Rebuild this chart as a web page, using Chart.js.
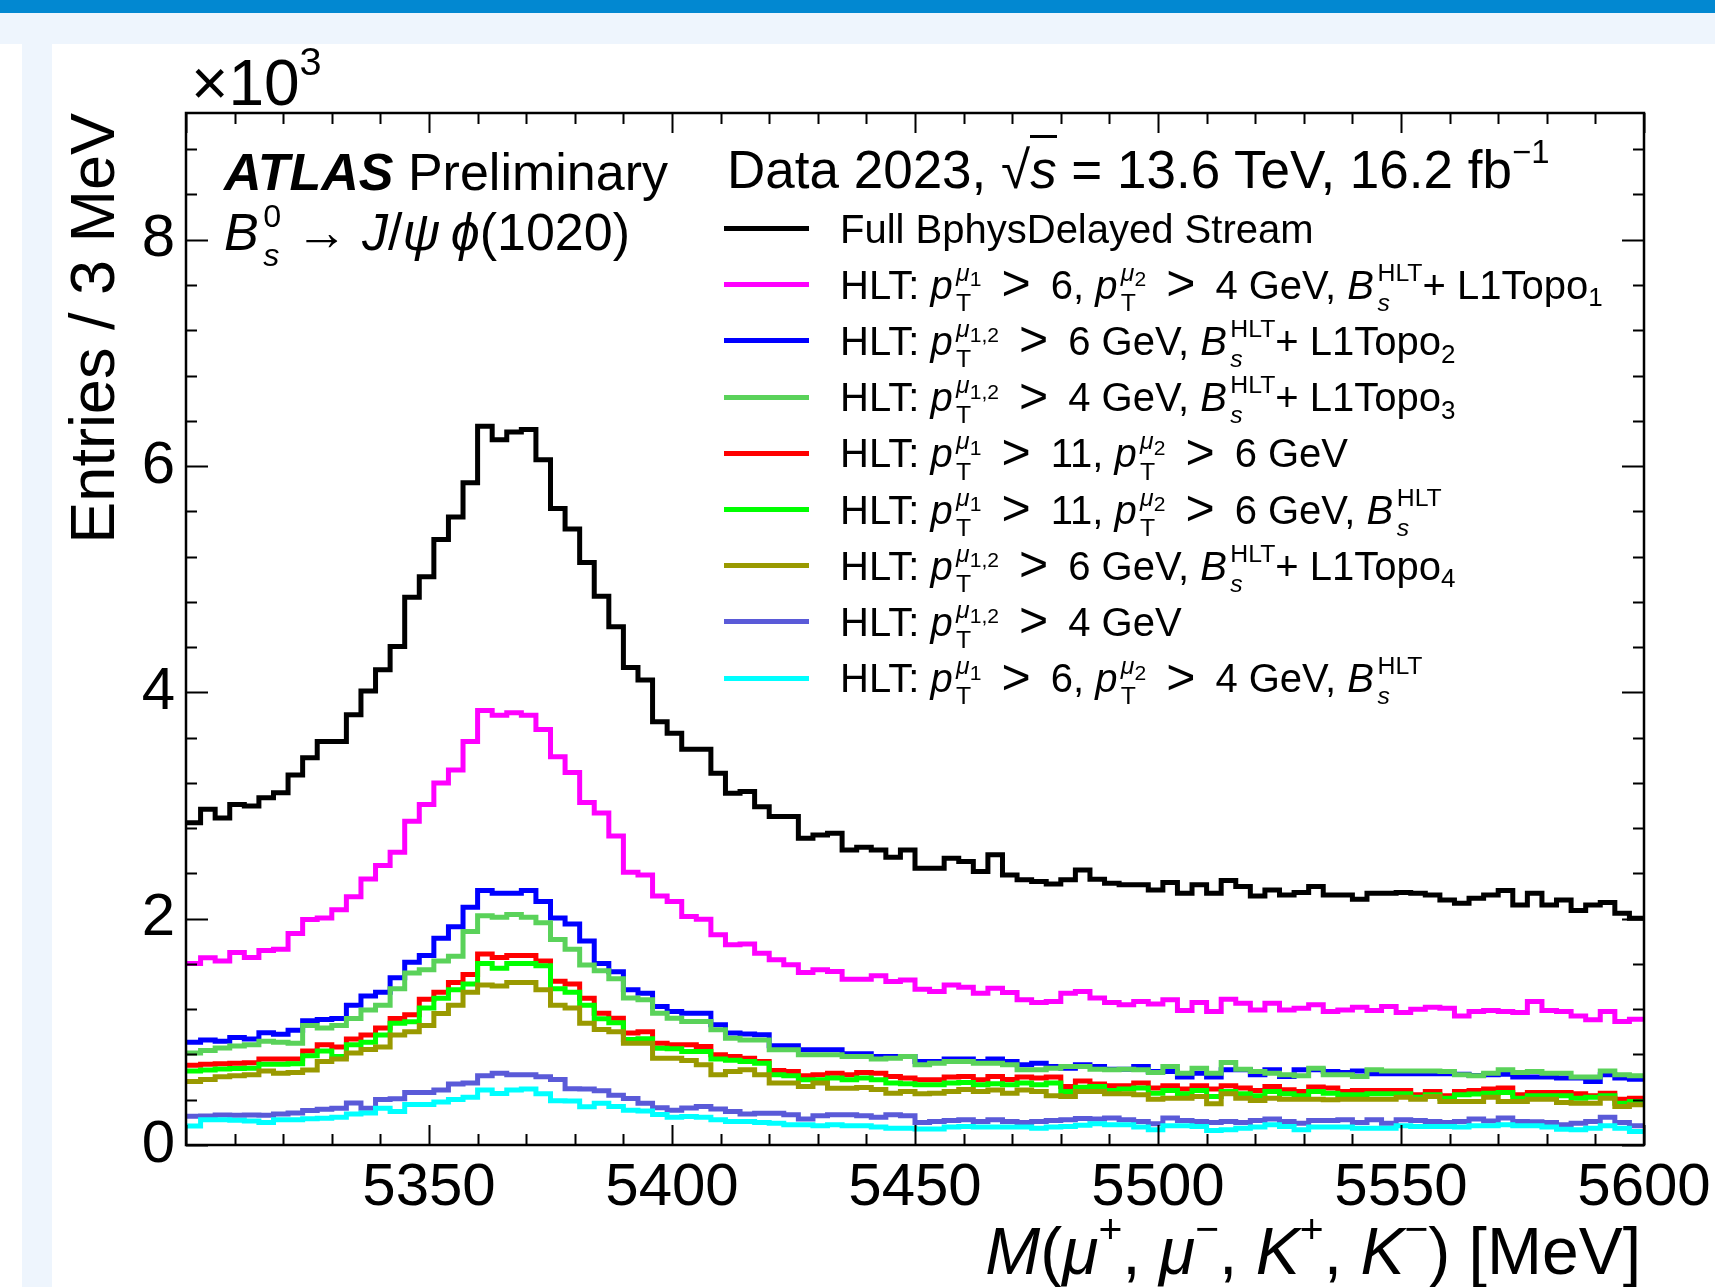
<!DOCTYPE html>
<html>
<head>
<meta charset="utf-8">
<title>Bs to J/psi phi - BphysDelayed triggers</title>
<script src="https://cdn.jsdelivr.net/npm/chart.js"></script>
<style>
  html, body { margin: 0; padding: 0; background: #fff; }
  body { width: 1715px; height: 1287px; position: relative; overflow: hidden;
         font-family: "Liberation Sans", Arial, Helvetica, sans-serif; color: #000; }
  #topbar { position: absolute; left: 0; top: 0; width: 1715px; height: 13px; background: #0288d1; }
  #band { position: absolute; left: 0; top: 13px; width: 1715px; height: 31px; background: #eef5fd; }
  #strip { position: absolute; left: 22px; top: 44px; width: 30px; height: 1243px; background: #eef5fd; }
  #plot { position: absolute; left: 52px; top: 44px; }
  .ann { position: absolute; white-space: nowrap; line-height: 1; }
  .it { font-style: italic; }
  .sp { position: relative; top: -0.75em; font-size: 0.62em; }
  .ss { display: inline-block; position: relative; font-size: 0.62em; margin-left: 0.14em; }
  .ss .u { position: relative; top: -0.72em; }
  .ss .d { position: absolute; left: 0; top: 0.5em; }
  .s3 { font-size: 0.85em; position: relative; top: 0.25em; }
  .sb { font-size: 0.65em; position: relative; top: 0.3em; }
  .gt { font-size: 1.25em; margin: 0 0.4em; position: relative; top: 0.03em; line-height: 0; }
  .key { position: absolute; width: 85px; height: 5px; }
  .root { border-top: 3px solid #000; padding-top: 2px; }
</style>
</head>
<body>
<div id="topbar"></div>
<div id="band"></div>
<div id="strip"></div>
<canvas id="plot" width="1663" height="1243"></canvas>

<div class="ann" style="left:191px; top:51px; font-size:64px;">&times;10<span class="sp">3</span></div>
<div class="ann" style="left:224px; top:146px; font-size:52px;"><b><i>ATLAS</i></b> Preliminary</div>
<div class="ann" style="left:224px; top:206px; font-size:52px;"><span class="it">B</span><span class="ss"><span class="u">0</span><span class="d it">s</span></span> &rarr; <span class="it">J</span>/<span class="it">&psi;</span>&thinsp;<span class="it">&#x3d5;</span>(1020)</div>
<div class="ann" style="left:727px; top:143px; font-size:53px;">Data 2023, &radic;<span class="it root">s</span> = 13.6 TeV, 16.2 fb<span class="sp">&minus;1</span></div>
<div id="legend"></div>
<div class="ann" style="right:74px; top:1218px; font-size:66px;"><span class="it">M</span>(<span class="it">&mu;</span><span class="sp">+</span>, <span class="it">&mu;</span><span class="sp">&minus;</span>, <span class="it">K</span><span class="sp">+</span>, <span class="it">K</span><span class="sp">&minus;</span>) [MeV]</div>

<script>
// histogram binning: 100 bins of 3 MeV
const binLow = 5300;
const binWidth = 3;

// entries per bin
const fullStream = [2848, 2967, 2890, 3009, 2996, 3068, 3114, 3270, 3422, 3566,
  3566, 3802, 4013, 4199, 4406, 4840, 5022, 5351, 5549, 5853,
  6351, 6233, 6300, 6322, 6056, 5625, 5444, 5148, 4849, 4579,
  4220, 4110, 3741, 3638, 3497, 3497, 3285, 3108, 3123, 2990,
  2902, 2902, 2711, 2740, 2755, 2608, 2632, 2608, 2543, 2608,
  2446, 2446, 2534, 2505, 2416, 2564, 2387, 2343, 2328, 2307,
  2343, 2431, 2349, 2313, 2299, 2299, 2254, 2319, 2225, 2299,
  2225, 2337, 2284, 2201, 2254, 2210, 2231, 2284, 2210, 2210,
  2172, 2225, 2225, 2231, 2225, 2210, 2166, 2137, 2181, 2210,
  2249, 2122, 2225, 2122, 2166, 2072, 2122, 2143, 2049, 2004];
const topo1 = [1604, 1654, 1625, 1701, 1658, 1718, 1730, 1869, 1992, 2005,
  2080, 2194, 2351, 2469, 2587, 2861, 3009, 3199, 3313, 3566,
  3840, 3798, 3819, 3798, 3671, 3431, 3292, 3026, 2933, 2730,
  2410, 2387, 2201, 2151, 2019, 1995, 1857, 1769, 1777, 1695,
  1636, 1592, 1524, 1548, 1533, 1465, 1465, 1495, 1444, 1459,
  1377, 1356, 1415, 1395, 1342, 1386, 1347, 1283, 1259, 1268,
  1342, 1356, 1298, 1259, 1239, 1268, 1247, 1283, 1188, 1259,
  1179, 1289, 1253, 1194, 1253, 1194, 1209, 1239, 1179, 1194,
  1218, 1188, 1224, 1171, 1200, 1218, 1209, 1141, 1179, 1188,
  1179, 1171, 1268, 1188, 1179, 1141, 1106, 1179, 1091, 1112];
const topo2 = [907, 928, 916, 950, 937, 992, 979, 1013, 1097, 1110,
  1118, 1236, 1317, 1350, 1477, 1616, 1675, 1827, 1929, 2102,
  2249, 2224, 2224, 2249, 2152, 2005, 1954, 1802, 1604, 1530,
  1371, 1342, 1224, 1179, 1165, 1165, 1062, 989, 982, 974,
  876, 876, 841, 841, 841, 806, 806, 782, 782, 782,
  738, 738, 759, 759, 738, 759, 738, 709, 723, 694,
  679, 709, 694, 670, 670, 694, 650, 650, 600, 635,
  600, 664, 664, 620, 664, 605, 664, 664, 650, 640,
  655, 630, 630, 630, 630, 630, 630, 625, 615, 620,
  625, 600, 600, 600, 593, 593, 561, 620, 593, 582];
const topo3 = [814, 836, 857, 874, 886, 916, 907, 899, 1055, 1034,
  1055, 1118, 1194, 1236, 1380, 1519, 1549, 1625, 1667, 1886,
  2026, 2013, 2038, 2013, 1963, 1815, 1730, 1591, 1540, 1470,
  1298, 1283, 1165, 1121, 1091, 1091, 1018, 944, 929, 929,
  841, 841, 797, 797, 797, 782, 782, 759, 767, 782,
  709, 723, 738, 738, 723, 723, 709, 664, 664, 679,
  694, 694, 670, 664, 670, 664, 640, 694, 635, 679,
  635, 729, 670, 650, 635, 620, 611, 679, 620, 620,
  605, 664, 655, 655, 655, 655, 650, 620, 611, 635,
  664, 640, 650, 635, 635, 600, 600, 655, 620, 611];
const mu11mu6 = [705, 713, 717, 722, 726, 760, 760, 760, 831, 886,
  865, 937, 971, 1034, 1118, 1152, 1287, 1350, 1435, 1507,
  1688, 1658, 1675, 1675, 1625, 1447, 1422, 1296, 1165, 1120,
  989, 1000, 900, 885, 885, 870, 797, 782, 767, 738,
  658, 650, 611, 620, 635, 620, 640, 635, 605, 591,
  576, 576, 600, 605, 576, 605, 579, 600, 591, 600,
  517, 565, 540, 523, 523, 547, 503, 523, 494, 523,
  494, 523, 503, 482, 517, 488, 473, 512, 503, 473,
  482, 482, 482, 482, 444, 473, 435, 473, 482, 494,
  503, 444, 464, 464, 464, 452, 435, 458, 405, 414];
const mu11mu6Bs = [654, 663, 671, 675, 679, 713, 713, 717, 789, 831,
  781, 886, 907, 971, 1076, 1089, 1211, 1296, 1371, 1422,
  1604, 1561, 1604, 1604, 1583, 1380, 1350, 1236, 1115, 1080,
  932, 940, 856, 850, 826, 826, 759, 750, 738, 723,
  620, 611, 576, 576, 591, 576, 591, 576, 547, 541,
  532, 532, 547, 552, 532, 541, 532, 547, 532, 547,
  473, 510, 517, 482, 494, 503, 458, 482, 452, 482,
  429, 473, 452, 435, 473, 452, 435, 473, 458, 444,
  444, 452, 452, 452, 423, 444, 414, 444, 450, 458,
  464, 414, 435, 435, 435, 414, 423, 435, 370, 385];
const topo4 = [561, 578, 603, 612, 620, 654, 633, 641, 663, 738,
  760, 814, 844, 865, 971, 1000, 1055, 1161, 1236, 1350,
  1414, 1405, 1435, 1435, 1371, 1236, 1211, 1076, 1020, 1000,
  900, 900, 767, 767, 747, 709, 620, 650, 664, 620,
  547, 547, 517, 547, 502, 502, 508, 491, 458, 473,
  452, 458, 473, 491, 473, 487, 458, 487, 473, 435,
  429, 473, 473, 452, 452, 444, 405, 414, 414, 429,
  364, 452, 414, 393, 414, 405, 405, 405, 399, 405,
  405, 405, 405, 423, 405, 429, 385, 385, 385, 423,
  385, 385, 405, 405, 376, 370, 370, 414, 340, 355];
const mu4mu4 = [253, 257, 266, 262, 266, 262, 274, 283, 304, 317,
  325, 371, 325, 401, 409, 464, 464, 485, 540, 549,
  612, 633, 620, 620, 603, 578, 498, 494, 480, 440,
  410, 370, 330, 308, 326, 340, 318, 296, 275, 281,
  281, 267, 229, 258, 267, 267, 258, 245, 267, 258,
  199, 208, 216, 223, 208, 223, 208, 199, 208, 216,
  223, 235, 229, 238, 223, 208, 187, 238, 216, 208,
  199, 208, 199, 216, 229, 208, 193, 216, 216, 223,
  199, 223, 193, 223, 216, 208, 199, 208, 229, 212,
  238, 208, 205, 199, 178, 193, 208, 246, 199, 170];
const mu6mu4Bs = [169, 224, 224, 219, 211, 198, 224, 224, 232, 236,
  245, 274, 283, 325, 295, 359, 359, 380, 401, 422,
  485, 456, 485, 494, 452, 392, 388, 338, 370, 340,
  308, 300, 270, 245, 252, 245, 223, 208, 208, 199,
  193, 179, 179, 170, 179, 170, 170, 158, 149, 149,
  141, 141, 158, 164, 158, 158, 158, 158, 149, 158,
  164, 175, 187, 178, 178, 158, 134, 170, 170, 164,
  128, 134, 149, 158, 178, 164, 134, 158, 158, 158,
  149, 149, 149, 170, 164, 164, 164, 158, 170, 170,
  178, 170, 170, 158, 140, 134, 149, 170, 149, 119];

const seriesValues = [fullStream, topo1, topo2, topo3, mu11mu6, mu11mu6Bs, topo4, mu4mu4, mu6mu4Bs];
const seriesColors = ['#000000', '#ff00ff', '#0000ff', '#5ad25a', '#ff0000', '#00ff00', '#999900', '#5a5ad8', '#00ffff'];

// legend labels (HTML so the sub/superscripts work)
const pT = (sup) => '<span class="it">p</span><span class="ss"><span class="u">' + sup + '</span><span class="d">T</span></span>';
const mu1 = '<span class="it">&mu;</span><span class="s3">1</span>';
const mu2 = '<span class="it">&mu;</span><span class="s3">2</span>';
const mu12 = '<span class="it">&mu;</span><span class="s3">1,2</span>';
const bsHLT = '<span class="it">B</span><span class="ss"><span class="u">HLT</span><span class="d it">s</span></span>';
const gt = '<span class="gt">&gt;</span>';
const legendLabels = [
  'Full BphysDelayed Stream',
  'HLT: ' + pT(mu1) + gt + '6, ' + pT(mu2) + gt + '4 GeV, ' + bsHLT + '+ L1Topo<span class="sb">1</span>',
  'HLT: ' + pT(mu12) + gt + '6 GeV, ' + bsHLT + '+ L1Topo<span class="sb">2</span>',
  'HLT: ' + pT(mu12) + gt + '4 GeV, ' + bsHLT + '+ L1Topo<span class="sb">3</span>',
  'HLT: ' + pT(mu1) + gt + '11, ' + pT(mu2) + gt + '6 GeV',
  'HLT: ' + pT(mu1) + gt + '11, ' + pT(mu2) + gt + '6 GeV, ' + bsHLT,
  'HLT: ' + pT(mu12) + gt + '6 GeV, ' + bsHLT + '+ L1Topo<span class="sb">4</span>',
  'HLT: ' + pT(mu12) + gt + '4 GeV',
  'HLT: ' + pT(mu1) + gt + '6, ' + pT(mu2) + gt + '4 GeV, ' + bsHLT
];

// axes: y in counts, labelled in units of 10^3
const yMax = 9120;
const yTickValues = [0, 2000, 4000, 6000, 8000];
const xTickValues = [5350, 5400, 5450, 5500, 5550, 5600];
const yMajor = 2000, yMinor = 400;
const xMajor = 50, xMinor = 10;

// each bin -> two points (left and right edge) so the line draws a histogram outline
function histPoints(values) {
  const pts = [];
  values.forEach((v, i) => {
    pts.push({ x: binLow + i * binWidth, y: v });
    pts.push({ x: binLow + (i + 1) * binWidth, y: v });
  });
  return pts;
}

const datasets = seriesValues.map((vals, i) => ({
  data: histPoints(vals),
  borderColor: seriesColors[i],
  borderWidth: 5,
  pointRadius: 0,
  fill: false,
  tension: 0,
  borderJoinStyle: 'miter',
  borderCapStyle: 'butt',
  order: seriesValues.length - i   // later series painted on top
}));

// ROOT-style frame with inward ticks on all four sides
const framePlugin = {
  id: 'frame',
  afterDraw(chart) {
    const { ctx, chartArea: a, scales } = chart;
    const xs = scales.x, ys = scales.y;
    ctx.save();
    ctx.strokeStyle = '#000';
    ctx.lineWidth = 2;
    ctx.beginPath();
    for (let v = binLow; v <= binLow + 100 * binWidth + 0.01; v += xMinor) {
      const px = Math.round(xs.getPixelForValue(v)) + 0.5;
      const len = (Math.round(v - binLow) % xMajor === 0) ? 20 : 11;
      ctx.moveTo(px, a.bottom); ctx.lineTo(px, a.bottom - len);
      ctx.moveTo(px, a.top); ctx.lineTo(px, a.top + len);
    }
    for (let v = 0; v <= yMax; v += yMinor) {
      const py = Math.round(ys.getPixelForValue(v)) + 0.5;
      const len = (v % yMajor === 0) ? 22 : 11;
      ctx.moveTo(a.left, py); ctx.lineTo(a.left + len, py);
      ctx.moveTo(a.right, py); ctx.lineTo(a.right - len, py);
    }
    ctx.stroke();
    ctx.lineWidth = 2.5;
    ctx.strokeRect(a.left, a.top, a.right - a.left, a.bottom - a.top);
    ctx.restore();
  }
};

const axisFont = { family: '"Liberation Sans", Arial, sans-serif', size: 60 };

const chart = new Chart(document.getElementById('plot').getContext('2d'), {
  type: 'line',
  data: { datasets: datasets },
  options: {
    responsive: false,
    animation: false,
    devicePixelRatio: 1,
    layout: { padding: { top: 69, right: 71, left: 0, bottom: 0 } },
    plugins: { legend: { display: false }, tooltip: { enabled: false } },
    scales: {
      x: {
        type: 'linear',
        min: binLow,
        max: binLow + 100 * binWidth,
        grid: { display: false, drawTicks: false },
        border: { display: false },
        ticks: {
          autoSkip: false,
          maxRotation: 0,
          padding: 7,
          color: '#000',
          font: axisFont,
          callback: (v) => String(v)
        },
        afterBuildTicks: (s) => { s.ticks = xTickValues.map(v => ({ value: v })); },
        afterFit: (s) => { s.height = 142; s.paddingLeft = 0; s.paddingRight = 0; }
      },
      y: {
        min: 0,
        max: yMax,
        grid: { display: false, drawTicks: false },
        border: { display: false },
        ticks: {
          padding: 11,
          color: '#000',
          font: axisFont,
          callback: (v) => String(v / 1000)
        },
        afterBuildTicks: (s) => { s.ticks = yTickValues.map(v => ({ value: v })); },
        title: {
          display: true,
          text: 'Entries / 3 MeV',
          align: 'end',
          color: '#000',
          font: { family: '"Liberation Sans", Arial, sans-serif', size: 63, lineHeight: 1 },
          padding: { top: 13, bottom: 0 }
        },
        afterFit: (s) => { s.width = 134; s.paddingTop = 0; s.paddingBottom = 0; }
      }
    }
  },
  plugins: [framePlugin]
});

// legend block, drawn next to the plot with the same colours as the datasets
const legend = document.getElementById('legend');
const rowTop = 228.5, rowStep = 56.2;
legendLabels.forEach((label, i) => {
  const cy = rowTop + i * rowStep;
  const key = document.createElement('div');
  key.className = 'key';
  key.style.left = '724px';
  key.style.top = (cy - 2.5) + 'px';
  key.style.background = seriesColors[i];
  legend.appendChild(key);
  const txt = document.createElement('div');
  txt.className = 'ann';
  txt.style.left = '840px';
  txt.style.top = (cy - 20) + 'px';
  txt.style.fontSize = '40px';
  txt.innerHTML = label;
  legend.appendChild(txt);
});
</script>
</body>
</html>
